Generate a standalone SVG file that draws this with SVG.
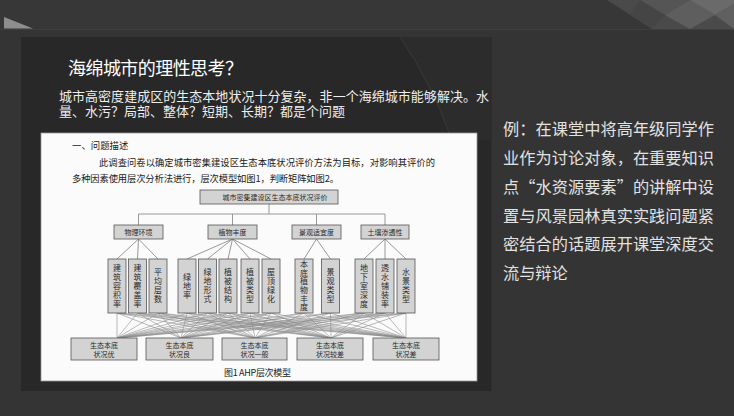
<svg xmlns="http://www.w3.org/2000/svg" width="734" height="416" viewBox="0 0 734 416">
<style>
.ft{font-family:"Noto Sans CJK SC","Noto Sans",sans-serif}
.bx{fill:#d3d3d3;stroke:#555;stroke-width:0.8}
.cn{stroke:#8c8c8c;stroke-width:0.6;fill:none}
.tl{stroke:#8c8c8c;stroke-width:0.9;fill:none}
.bt{font-size:7px;fill:#2a2a2a;text-anchor:middle}
.vt{font-size:8px;fill:#2a2a2a;text-anchor:middle;writing-mode:vertical-rl;letter-spacing:1px}
.rt{font-size:16.2px;fill:#e2e2e2}
</style>
<rect width="734" height="416" fill="#343434"/>
<rect width="734" height="29" fill="#373737"/>
<line x1="0" y1="29.5" x2="734" y2="29.5" stroke="#3e3e3e" stroke-width="1"/>
<polygon points="4,17 33,28.5 4,28.5" fill="#8e8e8e"/>
<g id="corner">
<polygon points="607,0 652,29 734,29 734,0" fill="#4a4a4a"/>
<polygon points="640,0 665,15 690,0" fill="#555"/>
<polygon points="665,15 690,29 715,15 690,0" fill="#5e5e5e"/>
<polygon points="690,0 715,15 734,4 734,0" fill="#6a6a6a"/>
<polygon points="715,15 734,29 734,4" fill="#606060"/>
<polygon points="640,0 665,15 652,29 630,14" fill="#454545"/>
</g>
<rect x="21" y="37" width="470.5" height="354" fill="#282828"/>
<path d="M400,37 Q430,80 452,140 L491.5,140 L491.5,37 Z" fill="#2c2c2c"/>
<path d="M400,37 Q430,80 452,140" stroke="#3a3a3a" stroke-width="1" fill="none"/>
<g id="title" class="ft">
<text x="68" y="75" font-size="18" fill="#ffffff" textLength="175">海绵城市的理性思考？</text>
<text x="59" y="101" font-size="13" fill="#eeeeee" textLength="430">城市高密度建成区的生态本地状况十分复杂，非一个海绵城市能够解决。水</text>
<text x="59" y="116" font-size="13" fill="#eeeeee" textLength="286">量、水污？局部、整体？短期、长期？都是个问题</text>
</g>
<g id="sidetext" class="ft">
<text class="rt" x="503" y="135" textLength="211">例：在课堂中将高年级同学作</text>
<text class="rt" x="503" y="164" textLength="211">业作为讨论对象，在重要知识</text>
<text class="rt" x="503" y="193" textLength="211">点“水资源要素”的讲解中设</text>
<text class="rt" x="503" y="221.5" textLength="211">置与风景园林真实实践问题紧</text>
<text class="rt" x="503" y="250" textLength="211">密结合的话题展开课堂深度交</text>
<text class="rt" x="503" y="279">流与辩论</text>
</g>
<rect x="41" y="133" width="436" height="248" fill="#fbfbfb" stroke="#9a9a9a" stroke-width="0.8"/>
<g id="figtext" class="ft" fill="#1a1a1a">
<text x="72" y="148.5" font-size="9.4">一、问题描述</text>
<text x="99" y="165.5" font-size="9.3" textLength="336">此调查问卷以确定城市密集建设区生态本底状况评价方法为目标，对影响其评价的</text>
<text x="72" y="181.5" font-size="9.3" textLength="267">多种因素使用层次分析法进行，层次模型如图1，判断矩阵如图2。</text>
<text x="224" y="376" font-size="9" textLength="67">图1 AHP层次模型</text>
</g>
<g id="connectors">
<path class="tl" d="M269,204V214 M138.5,214H385 M138.5,214V225 M232.5,214V225 M316.5,214V225 M385,214V225"/>
<path class="tl" d="M138.5,239L117,259 M138.5,239L137.5,259 M138.5,239L158,259 M232.5,239L187,259 M232.5,239L207.5,259 M232.5,239L228,259 M232.5,239L250,259 M232.5,239L271,259 M316.5,239L304,259 M316.5,239L330.5,259 M385,239L364,259 M385,239L385,259 M385,239L406,259"/>
<path class="cn" d="M117,313L117,338 M117,313L181,338 M117,313L255,338 M117,313L331,338 M117,313L406,338"/>
<path class="cn" d="M137.5,313L117,338 M137.5,313L181,338 M137.5,313L255,338 M137.5,313L331,338 M137.5,313L406,338"/>
<path class="cn" d="M158,313L117,338 M158,313L181,338 M158,313L255,338 M158,313L331,338 M158,313L406,338"/>
<path class="cn" d="M187,313L117,338 M187,313L181,338 M187,313L255,338 M187,313L331,338 M187,313L406,338"/>
<path class="cn" d="M207.5,313L117,338 M207.5,313L181,338 M207.5,313L255,338 M207.5,313L331,338 M207.5,313L406,338"/>
<path class="cn" d="M228,313L117,338 M228,313L181,338 M228,313L255,338 M228,313L331,338 M228,313L406,338"/>
<path class="cn" d="M250,313L117,338 M250,313L181,338 M250,313L255,338 M250,313L331,338 M250,313L406,338"/>
<path class="cn" d="M271,313L117,338 M271,313L181,338 M271,313L255,338 M271,313L331,338 M271,313L406,338"/>
<path class="cn" d="M304,313L117,338 M304,313L181,338 M304,313L255,338 M304,313L331,338 M304,313L406,338"/>
<path class="cn" d="M330.5,313L117,338 M330.5,313L181,338 M330.5,313L255,338 M330.5,313L331,338 M330.5,313L406,338"/>
<path class="cn" d="M364,313L117,338 M364,313L181,338 M364,313L255,338 M364,313L331,338 M364,313L406,338"/>
<path class="cn" d="M385,313L117,338 M385,313L181,338 M385,313L255,338 M385,313L331,338 M385,313L406,338"/>
<path class="cn" d="M406,313L117,338 M406,313L181,338 M406,313L255,338 M406,313L331,338 M406,313L406,338"/>
</g>
<g class="ft">
<g id="root"><rect class="bx" x="200" y="190" width="138" height="14"/><text class="bt" x="275" y="199.5" textLength="105">城市密集建设区生态本底状况评价</text></g>
<g id="c1"><rect class="bx" x="114" y="225" width="49" height="14"/><text class="bt" x="138.5" y="234.5">物理环境</text></g>
<g id="c2"><rect class="bx" x="208" y="225" width="49" height="14"/><text class="bt" x="232.5" y="234.5">植物丰度</text></g>
<g id="c3"><rect class="bx" x="292" y="225" width="49" height="14"/><text class="bt" x="316.5" y="234.5">景观适宜度</text></g>
<g id="c4"><rect class="bx" x="361" y="225" width="48" height="14"/><text class="bt" x="385" y="234.5">土壤渗透性</text></g>
<g id="f1"><rect class="bx" x="108" y="259" width="18" height="54"/><text class="vt" x="117" y="286">建筑容积率</text></g>
<g id="f2"><rect class="bx" x="128.5" y="259" width="18" height="54"/><text class="vt" x="137.5" y="286">建筑覆盖率</text></g>
<g id="f3"><rect class="bx" x="149" y="259" width="18" height="54"/><text class="vt" x="158" y="286">平均层数</text></g>
<g id="f4"><rect class="bx" x="178" y="259" width="18" height="54"/><text class="vt" x="187" y="286">绿地率</text></g>
<g id="f5"><rect class="bx" x="198.5" y="259" width="18" height="54"/><text class="vt" x="207.5" y="286">绿地形式</text></g>
<g id="f6"><rect class="bx" x="219" y="259" width="18" height="54"/><text class="vt" x="228" y="286">植被结构</text></g>
<g id="f7"><rect class="bx" x="241" y="259" width="18" height="54"/><text class="vt" x="250" y="286">植被类型</text></g>
<g id="f8"><rect class="bx" x="262" y="259" width="18" height="54"/><text class="vt" x="271" y="286">屋顶绿化</text></g>
<g id="f9"><rect class="bx" x="295" y="259" width="18" height="54"/><text class="vt" x="304" y="286" style="letter-spacing:0.6px">本底植物丰度</text></g>
<g id="f10"><rect class="bx" x="321.5" y="259" width="18" height="54"/><text class="vt" x="330.5" y="286">景观类型</text></g>
<g id="f11"><rect class="bx" x="355" y="259" width="18" height="54"/><text class="vt" x="364" y="286">地下室深度</text></g>
<g id="f12"><rect class="bx" x="376" y="259" width="18" height="54"/><text class="vt" x="385" y="286">透水铺装率</text></g>
<g id="f13"><rect class="bx" x="397" y="259" width="18" height="54"/><text class="vt" x="406" y="286">水景类型</text></g>
<g id="r1"><rect class="bx" x="71" y="338" width="66" height="22"/><text class="bt" x="104" y="347.5">生态本底</text><text class="bt" x="104" y="356.5">状况优</text></g>
<g id="r2"><rect class="bx" x="146" y="338" width="67" height="22"/><text class="bt" x="179.5" y="347.5">生态本底</text><text class="bt" x="179.5" y="356.5">状况良</text></g>
<g id="r3"><rect class="bx" x="222" y="338" width="65" height="22"/><text class="bt" x="254.5" y="347.5">生态本底</text><text class="bt" x="254.5" y="356.5">状况一般</text></g>
<g id="r4"><rect class="bx" x="297" y="338" width="66" height="22"/><text class="bt" x="330" y="347.5">生态本底</text><text class="bt" x="330" y="356.5">状况较差</text></g>
<g id="r5"><rect class="bx" x="373" y="338" width="66" height="22"/><text class="bt" x="406" y="347.5">生态本底</text><text class="bt" x="406" y="356.5">状况差</text></g>
</g>
</svg>
